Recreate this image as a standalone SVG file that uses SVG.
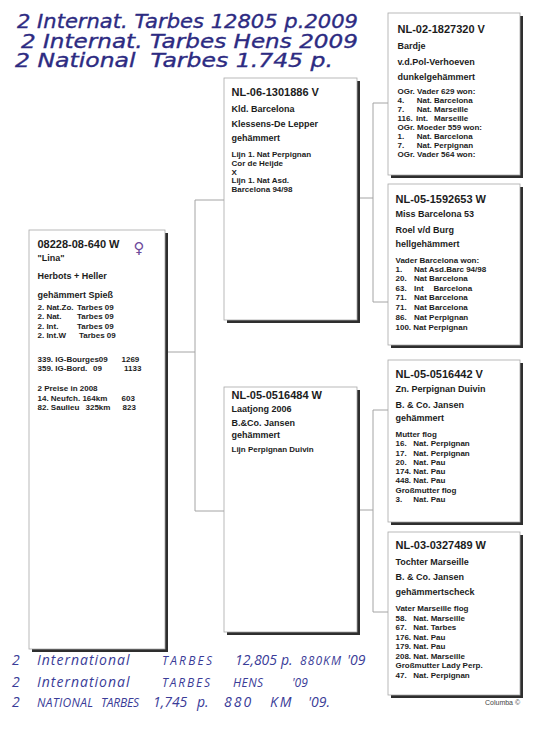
<svg xmlns="http://www.w3.org/2000/svg" width="540" height="739" viewBox="0 0 540 739">
<style>
.bx{fill:#fff;stroke:#a8a8a8;stroke-width:0.8}
.sh{fill:#2e2e2e}
.t{font-family:"Liberation Sans",Arial,sans-serif;font-weight:bold;fill:#1c1c1c}
.id{font-size:11px}
.nm{font-size:9px}
.ls{font-size:8px}
.con{stroke:#a4a4a4;stroke-width:1;fill:none}
.ttl{font-family:"DejaVu Sans",Verdana,sans-serif;font-style:oblique;font-size:20px;fill:#2d2b82;stroke:#2d2b82;stroke-width:0.35}
.hw{font-family:"Open Sans","DejaVu Sans",sans-serif;font-style:italic;font-weight:400;font-size:14px;fill:#3a3c98}
.sm{font-size:12px}
.wide{letter-spacing:1px}
</style>
<rect width="540" height="739" fill="#fff"/>
<g id="titles">
<text class="ttl" x="17" y="28" textLength="341" lengthAdjust="spacingAndGlyphs">2 Internat. Tarbes 12805 p.2009</text>
<text class="ttl" x="21" y="48" textLength="337" lengthAdjust="spacingAndGlyphs">2 Internat. Tarbes Hens 2009</text>
<text class="ttl" x="15" y="67" textLength="318" lengthAdjust="spacingAndGlyphs" xml:space="preserve" style="white-space:pre">2 National  Tarbes 1.745 p.</text>
</g>
<g id="connectors">
<path class="con" d="M168 352H195M195 200V511M195 200H224M195 511H224"/>
<path class="con" d="M360 198H373M373 103V302M373 103H388M373 302H388"/>
<path class="con" d="M360 510H373M373 410V612M373 410H388M373 612H388"/>
</g>
<g id="main">
<rect class="sh" x="32" y="233" width="136" height="419"/>
<rect class="bx" x="29" y="230" width="136" height="419"/>
<text class="t id" x="37.5" y="248">08228-08-640 W</text>
<text x="139" y="253" text-anchor="middle" style="font-family:'DejaVu Sans',sans-serif;font-size:15px;fill:#6e4b9c">♀</text>
<text class="t nm" x="37.5" y="261">"Lina"</text>
<text class="t nm" x="37.5" y="278.5">Herbots + Heller</text>
<text class="t nm" x="37.5" y="297.5">gehämmert Spieß</text>
<text class="t ls" x="37.5" y="310">2. Nat.Zo.<tspan x="77">Tarbes 09</tspan></text>
<text class="t ls" x="37.5" y="319.3">2. Nat.<tspan x="77">Tarbes 09</tspan></text>
<text class="t ls" x="37.5" y="328.5">2. Int.<tspan x="77">Tarbes 09</tspan></text>
<text class="t ls" x="37.5" y="338">2. Int.W<tspan x="79">Tarbes 09</tspan></text>
<text class="t ls" x="37.5" y="361.7">339. IG-Bourges09<tspan x="121.5">1269</tspan></text>
<text class="t ls" x="37.5" y="371">359. IG-Bord.<tspan x="93">09</tspan><tspan x="124">1133</tspan></text>
<text class="t ls" x="37.5" y="391">2 Preise in 2008</text>
<text class="t ls" x="37.5" y="400.7">14. Neufch. 164km<tspan x="121.5">603</tspan></text>
<text class="t ls" x="37.5" y="410">82. Saulieu<tspan x="85.5">325km</tspan><tspan x="122.5">823</tspan></text>
</g>
<g id="sire">
<rect class="sh" x="227" y="81" width="133" height="242"/>
<rect class="bx" x="224" y="78" width="133" height="242"/>
<text class="t id" x="231.5" y="95.7">NL-06-1301886 V</text>
<text class="t nm" x="231.5" y="111.7">Kld. Barcelona</text>
<text class="t nm" x="231.5" y="126.7">Klessens-De Lepper</text>
<text class="t nm" x="231.5" y="141">gehämmert</text>
<text class="t ls" x="231.5" y="156.7">Lijn 1. Nat Perpignan</text>
<text class="t ls" x="231.5" y="165.7">Cor de Heijde</text>
<text class="t ls" x="231.5" y="174.5">X</text>
<text class="t ls" x="231.5" y="183.3">Lijn 1. Nat Asd.</text>
<text class="t ls" x="231.5" y="192.3">Barcelona 94/98</text>
</g>
<g id="dam">
<rect class="sh" x="227" y="390" width="133" height="245"/>
<rect class="bx" x="224" y="387" width="133" height="245"/>
<text class="t id" x="231.5" y="399">NL-05-0516484 W</text>
<text class="t nm" x="231.5" y="411.7">Laatjong 2006</text>
<text class="t nm" x="231.5" y="425.7">B.&amp;Co. Jansen</text>
<text class="t nm" x="231.5" y="438.3">gehämmert</text>
<text class="t ls" x="231.5" y="451.7">Lijn Perpignan Duivin</text>
</g>
<g id="ss">
<rect class="sh" x="391" y="16" width="132" height="162"/>
<rect class="bx" x="388" y="13" width="132" height="162"/>
<text class="t id" x="397.5" y="33.3">NL-02-1827320 V</text>
<text class="t nm" x="397.5" y="49">Bardje</text>
<text class="t nm" x="397.5" y="65">v.d.Pol-Verhoeven</text>
<text class="t nm" x="397.5" y="80">dunkelgehämmert</text>
<text class="t ls" x="397.5" y="94.3">OGr. Vader 629 won:</text>
<text class="t ls" x="397.5" y="103.3">4.<tspan x="416.7">Nat. Barcelona</tspan></text>
<text class="t ls" x="397.5" y="112.3">7.<tspan x="416.7">Nat. Marseille</tspan></text>
<text class="t ls" x="397.5" y="121">116.<tspan x="416">Int.</tspan><tspan x="434">Marseille</tspan></text>
<text class="t ls" x="397.5" y="130">OGr. Moeder 559 won:</text>
<text class="t ls" x="397.5" y="139">1.<tspan x="416.7">Nat. Barcelona</tspan></text>
<text class="t ls" x="397.5" y="147.7">7.<tspan x="416.7">Nat. Perpignan</tspan></text>
<text class="t ls" x="397.5" y="156.7">OGr. Vader 564 won:</text>
</g>
<g id="sd">
<rect class="sh" x="391" y="187" width="132" height="161"/>
<rect class="bx" x="388" y="184" width="132" height="161"/>
<text class="t id" x="395.5" y="202.7">NL-05-1592653 W</text>
<text class="t nm" x="395.5" y="216.7">Miss Barcelona 53</text>
<text class="t nm" x="395.5" y="233.3">Roel v/d Burg</text>
<text class="t nm" x="395.5" y="247.3">hellgehämmert</text>
<text class="t ls" x="395.5" y="262.7">Vader Barcelona won:</text>
<text class="t ls" x="395.5" y="272">1.<tspan x="414">Nat Asd.Barc 94/98</tspan></text>
<text class="t ls" x="395.5" y="281.3">20.<tspan x="414">Nat Barcelona</tspan></text>
<text class="t ls" x="395.5" y="291">63.<tspan x="414">Int</tspan><tspan x="433.5">Barcelona</tspan></text>
<text class="t ls" x="395.5" y="300.3">71.<tspan x="414">Nat Barcelona</tspan></text>
<text class="t ls" x="395.5" y="310">71.<tspan x="414">Nat Barcelona</tspan></text>
<text class="t ls" x="395.5" y="320">86.<tspan x="414">Nat Perpignan</tspan></text>
<text class="t ls" x="395.5" y="330">100. Nat Perpignan</text>
</g>
<g id="ds">
<rect class="sh" x="391" y="363" width="132" height="162"/>
<rect class="bx" x="388" y="360" width="132" height="162"/>
<text class="t id" x="395.5" y="378.3">NL-05-0516442 V</text>
<text class="t nm" x="395.5" y="391.7">Zn. Perpignan Duivin</text>
<text class="t nm" x="395.5" y="408.3">B. &amp; Co. Jansen</text>
<text class="t nm" x="395.5" y="421">gehämmert</text>
<text class="t ls" x="395.5" y="436.7">Mutter flog</text>
<text class="t ls" x="395.5" y="446">16.<tspan x="413.3">Nat. Perpignan</tspan></text>
<text class="t ls" x="395.5" y="455.7">17.<tspan x="413.3">Nat. Perpignan</tspan></text>
<text class="t ls" x="395.5" y="465">20.<tspan x="413.3">Nat. Pau</tspan></text>
<text class="t ls" x="395.5" y="474.3">174. Nat. Pau</text>
<text class="t ls" x="395.5" y="483.3">448. Nat. Pau</text>
<text class="t ls" x="395.5" y="492.7">Großmutter flog</text>
<text class="t ls" x="395.5" y="502.3">3.<tspan x="413.3">Nat. Pau</tspan></text>
</g>
<g id="dd">
<rect class="sh" x="391" y="535" width="132" height="163"/>
<rect class="bx" x="388" y="532" width="132" height="163"/>
<text class="t id" x="395.5" y="549.3">NL-03-0327489 W</text>
<text class="t nm" x="395.5" y="565">Tochter Marseille</text>
<text class="t nm" x="395.5" y="580">B. &amp; Co. Jansen</text>
<text class="t nm" x="395.5" y="595">gehämmertscheck</text>
<text class="t ls" x="395.5" y="611">Vater Marseille flog</text>
<text class="t ls" x="395.5" y="620.7">58.<tspan x="413.3">Nat. Marseille</tspan></text>
<text class="t ls" x="395.5" y="630">67.<tspan x="413.3">Nat. Tarbes</tspan></text>
<text class="t ls" x="395.5" y="640">176. Nat. Pau</text>
<text class="t ls" x="395.5" y="649.3">179. Nat. Pau</text>
<text class="t ls" x="395.5" y="659">208. Nat. Marseille</text>
<text class="t ls" x="395.5" y="668.3">Großmutter Lady Perp.</text>
<text class="t ls" x="395.5" y="678.3">47.<tspan x="413.3">Nat. Perpignan</tspan></text>
</g>
<text x="485" y="705" style="font-family:'Liberation Sans',Arial,sans-serif;font-size:7px;fill:#444">Columba ©</text>
<g id="handwriting">
<text class="hw" x="12" y="665">2</text>
<text class="hw wide" x="37" y="665">International</text>
<text class="hw sm" x="162" y="665" textLength="50" lengthAdjust="spacing">TARBES</text>
<text class="hw" x="235" y="665">12,805</text>
<text class="hw" x="281" y="665">p.</text>
<text class="hw sm" x="300" y="665" textLength="41" lengthAdjust="spacing">880KM</text>
<text class="hw" x="347" y="665">'09</text>
<text class="hw" x="12" y="687">2</text>
<text class="hw wide" x="37" y="687">International</text>
<text class="hw sm" x="162" y="687" textLength="48" lengthAdjust="spacing">TARBES</text>
<text class="hw sm" x="233" y="687" textLength="30" lengthAdjust="spacing">HENS</text>
<text class="hw sm" x="292" y="687">'09</text>
<text class="hw" x="12" y="707">2</text>
<text class="hw sm" x="37" y="707" textLength="56" lengthAdjust="spacing">NATIONAL</text>
<text class="hw sm" x="101" y="707" textLength="38" lengthAdjust="spacing">TARBES</text>
<text class="hw" x="153" y="707">1,745</text>
<text class="hw" x="197" y="707">p.</text>
<text class="hw" x="224" y="707" style="letter-spacing:2px">880</text>
<text class="hw" x="270" y="707" style="letter-spacing:2px">KM</text>
<text class="hw" x="308" y="707">'09.</text>
</g>
</svg>
